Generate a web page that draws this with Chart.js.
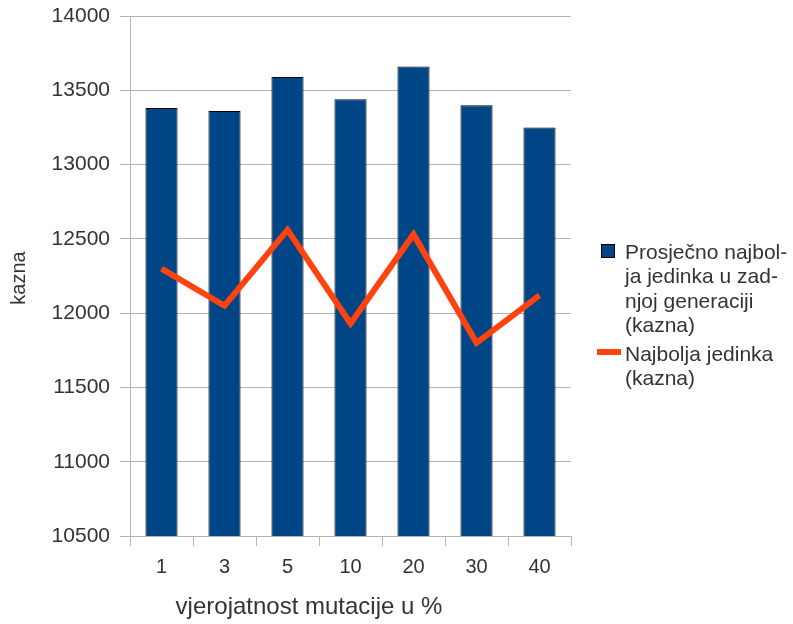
<!DOCTYPE html>
<html>
<head>
<meta charset="utf-8">
<script src="https://cdn.jsdelivr.net/npm/chart.js@4/dist/chart.umd.min.js"></script>
<style>
  html, body { margin: 0; padding: 0; background: #ffffff; }
  #wrap { width: 793px; height: 624px; position: relative; }
</style>
</head>
<body>
<div id="wrap"><canvas id="c"></canvas></div>
<script>
// Mutation probability (%) on the x axis
const categories = ['1', '3', '5', '10', '20', '30', '40'];
// Average best individual in the last generation (penalty)
const avgBest = [13380, 13360, 13590, 13440, 13660, 13400, 13250];
// Best individual overall (penalty)
const best = [12300, 12050, 12560, 11930, 12530, 11800, 12120];
// Y axis range and step
const yMin = 10500;
const yMax = 14000;
const yStep = 500;

const avgLabel = 'Prosječno najbolja jedinka u zadnjoj generaciji (kazna)';
const bestLabel = 'Najbolja jedinka (kazna)';
const avgLegendLines = ['Prosječno najbol-', 'ja jedinka u zad-', 'njoj generaciji', '(kazna)'];
const bestLegendLines = ['Najbolja jedinka', '(kazna)'];
const xTitle = 'vjerojatnost mutacije u %';
const yTitle = 'kazna';

const FONT = '"Liberation Sans", Arial, sans-serif';
const TEXT = '#333333';
const GRID = '#b3b3b3';
const BAR = '#004586';
const LINE = '#ff420e';

// Legend and axis titles drawn beside the plot
const sidePlugin = {
  id: 'side',
  afterDraw(chart) {
    const ctx = chart.ctx;
    const area = chart.chartArea;
    ctx.save();
    ctx.fillStyle = TEXT;
    ctx.textBaseline = 'middle';

    // y axis title
    ctx.save();
    ctx.font = '20px ' + FONT;
    ctx.textAlign = 'center';
    ctx.translate(19, (area.top + area.bottom) / 2 + 2);
    ctx.rotate(-Math.PI / 2);
    ctx.fillText(yTitle, 0, 0);
    ctx.restore();

    // x axis title
    ctx.font = '24px ' + FONT;
    ctx.textAlign = 'center';
    ctx.fillText(xTitle, 309, 607);

    // legend
    const lx = 601, tx = 625, lh = 24.4;
    ctx.font = '21px ' + FONT;
    ctx.textAlign = 'left';
    const ds0 = chart.data.datasets[0];
    const ds1 = chart.data.datasets[1];
    ctx.fillStyle = ds0.backgroundColor;
    ctx.fillRect(lx, 244, 14, 14);
    ctx.strokeStyle = '#000000';
    ctx.lineWidth = 1;
    ctx.strokeRect(lx + 0.5, 244.5, 13, 13);
    ctx.fillStyle = TEXT;
    avgLegendLines.forEach((t, i) => ctx.fillText(t, tx, 253 + i * lh));

    ctx.strokeStyle = ds1.borderColor;
    ctx.lineWidth = 6;
    ctx.beginPath();
    ctx.moveTo(597, 352);
    ctx.lineTo(621, 352);
    ctx.stroke();
    bestLegendLines.forEach((t, i) => ctx.fillText(t, tx, 355 + i * lh));
    ctx.restore();
  }
};

new Chart(document.getElementById('c'), {
  data: {
    labels: categories,
    datasets: [
      {
        type: 'bar',
        label: avgLabel,
        data: avgBest,
        backgroundColor: BAR,
        borderColor: '#000000',
        borderWidth: 1,
        barPercentage: 0.51,
        categoryPercentage: 1.0,
        order: 2
      },
      {
        type: 'line',
        label: bestLabel,
        data: best,
        borderColor: LINE,
        backgroundColor: LINE,
        borderWidth: 6,
        pointRadius: 0,
        tension: 0,
        fill: false,
        order: 1
      }
    ]
  },
  options: {
    responsive: true,
    maintainAspectRatio: false,
    animation: false,
    layout: { padding: { left: 0, right: 222, top: 16, bottom: 0 } },
    plugins: {
      legend: { display: false },
      tooltip: { enabled: false }
    },
    scales: {
      x: {
        grid: {
          display: true,
          offset: true,
          drawOnChartArea: false,
          drawTicks: true,
          tickLength: 10,
          color: GRID
        },
        border: { display: true, color: GRID },
        ticks: {
          color: TEXT,
          font: { family: FONT, size: 20 },
          padding: 9,
          maxRotation: 0
        },
        afterFit(scale) {
          scale.height = 88;
          scale.paddingLeft = 0;
          scale.paddingRight = 0;
        }
      },
      y: {
        min: yMin,
        max: yMax,
        grid: {
          color: GRID,
          tickLength: 10,
          drawTicks: true
        },
        border: { display: true, color: GRID },
        ticks: {
          stepSize: yStep,
          color: TEXT,
          font: { family: FONT, size: 21 },
          padding: 10,
          callback: (v) => String(v)
        },
        afterFit(scale) {
          scale.width = 130;
          scale.paddingTop = 0;
          scale.paddingBottom = 0;
        }
      }
    }
  },
  plugins: [sidePlugin]
});
</script>
</body>
</html>
